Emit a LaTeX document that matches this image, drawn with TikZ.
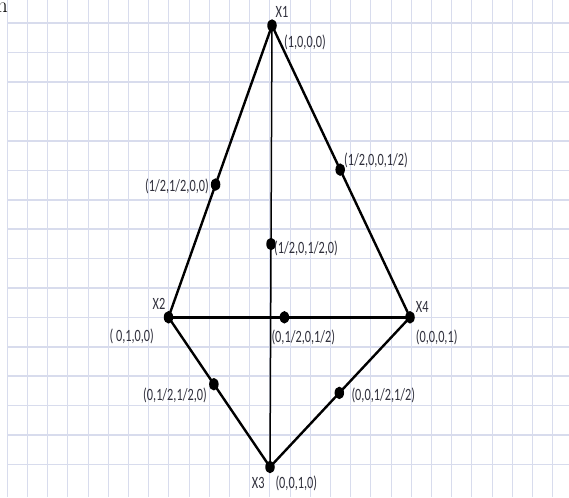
\documentclass[tikz,border=0pt]{standalone}
\usepackage{fontspec}
\usepackage{graphicx}
\usetikzlibrary{shapes.geometric}
\setmainfont{Carlito}
\newfontfamily\lmfont{Latin Modern Roman}
\definecolor{gridc}{RGB}{216,220,237}
\definecolor{labc}{RGB}{48,48,60}
\newcommand\stretchtxt[1]{\scalebox{1}[1.4]{#1}}
\begin{document}
\begin{tikzpicture}[x=1pt,y=-1pt,
  vgridline/.style={draw=gridc, line width=1.0pt},
  hgridline/.style={draw=gridc, line width=1.6pt},
  edge/.style={draw=black, line width=2.4pt},
  thinedge/.style={draw=black, line width=1.5pt},
  dot/.style={fill=black, draw=none, ellipse, minimum width=9.5pt, minimum height=12.5pt, inner sep=0pt},
  lab/.style={text=labc, inner sep=0pt, font=\fontsize{12.3}{14}\selectfont}
]
\useasboundingbox (0,0) rectangle (569,497);
\fill[white] (0,0) rectangle (569,497);
% grid
\foreach \k in {0,...,27} {\draw[vgridline] ({7.3+20.2*\k},0) -- ({7.3+20.2*\k},497);}
\foreach \k in {0,...,15} {\draw[hgridline] (7.3,{23.3+29.4*\k}) -- (569,{23.3+29.4*\k});}
% stray glyph
\node[anchor=base east, inner sep=0pt, font=\lmfont\fontsize{22}{22}\selectfont] (stray) at (8,12.7) {n};
% vertices
\coordinate (x1) at (272,25.5);
\coordinate (x2) at (168.5,317.3);
\coordinate (x4) at (410,317.3);
\coordinate (x3) at (270,467);
% edges
\draw[thinedge] (x1) -- (x3);
\draw[edge] (x1) -- (x2);
\draw[edge] (x1) -- (x4);
\draw[edge] (x2) -- (x4);
\draw[edge] (x2) -- (x3);
\draw[edge] (x4) -- (x3);
% dots
\node[dot] (d1) at (x1) {};
\node[dot] (d2) at (x2) {};
\node[dot] (d3) at (x3) {};
\node[dot] (d4) at (x4) {};
\path (x1) -- (x2) node[dot,pos=0.545] (m12) {};
\path (x1) -- (x4) node[dot,pos=0.494] (m14) {};
\path (x1) -- (x3) node[dot,pos=0.495] (m13) {};
\path (x2) -- (x4) node[dot,pos=0.48] (m24) {};
\path (x2) -- (x3) node[dot,pos=0.447] (m23) {};
\path (x4) -- (x3) node[dot,pos=0.505] (m43) {};
% labels
\node[lab] (lx1) at (282,11.6) {\stretchtxt{X1}};
\node[lab] (l1000) at (305,42.7) {\stretchtxt{(1,0,0,0)}};
\node[lab] (l14) at (376,160) {\stretchtxt{(1/2,0,0,1/2)}};
\node[lab] (l12) at (177,186) {\stretchtxt{(1/2,1/2,0,0)}};
\node[lab] (l13) at (306,248) {\stretchtxt{(1/2,0,1/2,0)}};
\node[lab] (lx2) at (159,304) {\stretchtxt{X2}};
\node[lab] (l0100) at (131.7,336.7) {\stretchtxt{( 0,1,0,0)}};
\node[lab] (l24) at (303.3,337.3) {\stretchtxt{(0,1/2,0,1/2)}};
\node[lab] (lx4) at (422.3,306.7) {\stretchtxt{X4}};
\node[lab] (l0001) at (436.7,337.3) {\stretchtxt{(0,0,0,1)}};
\node[lab] (l23) at (175,395) {\stretchtxt{(0,1/2,1/2,0)}};
\node[lab] (l43) at (383.3,395) {\stretchtxt{(0,0,1/2,1/2)}};
\node[lab] (lx3) at (258.3,483.3) {\stretchtxt{X3}};
\node[lab] (l0010) at (296.3,483.3) {\stretchtxt{(0,0,1,0)}};
\end{tikzpicture}
\end{document}
